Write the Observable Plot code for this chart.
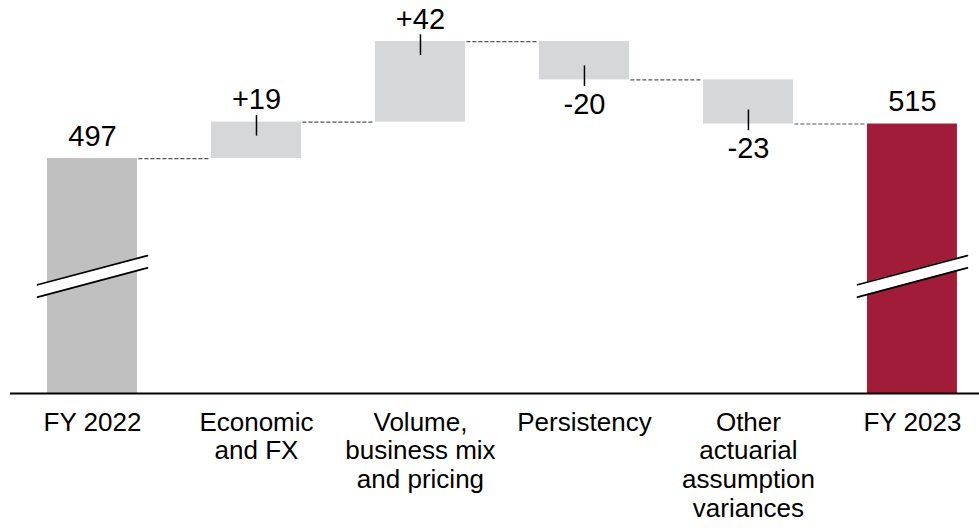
<!DOCTYPE html>
<html>
<head>
<meta charset="utf-8">
<script src="https://cdn.jsdelivr.net/npm/d3@7"></script>
<script src="https://cdn.jsdelivr.net/npm/@observablehq/plot@0.6"></script>
<style>
  html, body { margin: 0; padding: 0; background: #fff; }
</style>
</head>
<body>
<div id="chart"></div>
<script>
const categories = ["FY 2022", "Economic\nand FX", "Volume,\nbusiness mix\nand pricing", "Persistency", "Other\nactuarial\nassumption\nvariances", "FY 2023"];
const values = [497, 19, 42, -20, -23, 515];
const kinds = ["total", "delta", "delta", "delta", "delta", "total"];
const valueLabels = ["497", "+19", "+42", "-20", "-23", "515"];

// broken axis: visible value range
const axisFloor = 374.5;
const axisTop = 579.4;
// break marker levels (in value units, lower/upper edge at left and right)
const breakLeft = [424.7, 431.2];
const breakRight = [440.0, 446.4];

const totalColor = {"FY 2022": "#c0c0c0", "FY 2023": "#a01c38"};
const deltaColor = "#d6d7d9";

// build rows
let running = 0;
const rows = categories.map((c, i) => {
  let start, end;
  if (kinds[i] === "total") { start = axisFloor; end = values[i]; running = values[i]; }
  else { start = running; end = running + values[i]; running = end; }
  return {i, cat: c, kind: kinds[i], value: values[i], label: valueLabels[i], start, end};
});

const hw = 0.2744;
const conns = rows.slice(0, -1).map(d => ({i: d.i, level: d.end}));
const breaks = [];
rows.filter(d => d.kind === "total").forEach(d => {
  breaks.push({id: d.i, x: d.i - 0.335, lo: breakLeft[0], hi: breakLeft[1]});
  breaks.push({id: d.i, x: d.i + 0.335, lo: breakRight[0], hi: breakRight[1]});
});
const above = rows.filter(d => d.value >= 0);
const below = rows.filter(d => d.value < 0);
const posDeltas = rows.filter(d => d.kind === "delta" && d.value >= 0);
const negDeltas = rows.filter(d => d.kind === "delta" && d.value < 0);

const chart = Plot.plot({
  width: 979,
  height: 530,
  marginTop: 0,
  marginBottom: 137,
  marginLeft: 10,
  marginRight: 0,
  style: {fontFamily: "'Liberation Sans', Arial, sans-serif", color: "#000", background: "#fff"},
  x: {domain: [-0.5, 5.409], axis: null},
  y: {domain: [axisFloor, axisTop], axis: null},
  marks: [
    Plot.rectY(rows, {
      x1: d => d.i - hw, x2: d => d.i + hw, y1: "start", y2: "end",
      fill: d => d.kind === "total" ? totalColor[d.cat] : deltaColor
    }),
    Plot.area(breaks, {x1: "x", y1: "lo", y2: "hi", z: "id", fill: "#fff"}),
    Plot.line(breaks, {x: "x", y: "lo", z: "id", stroke: "#000", strokeWidth: 1.8}),
    Plot.line(breaks, {x: "x", y: "hi", z: "id", stroke: "#000", strokeWidth: 1.8}),
    Plot.link(conns, {
      x1: d => d.i + 0.28, x2: d => d.i + 0.707, y1: "level", y2: "level",
      stroke: "#555", strokeWidth: 1.2, strokeDasharray: "4,2"
    }),
    Plot.ruleX(posDeltas, {x: "i", y1: "end", y2: "end", insetTop: -6.7, insetBottom: -14, stroke: "#000", strokeWidth: 1.5}),
    Plot.ruleX(negDeltas, {x: "i", y1: "end", y2: "end", insetTop: -14, insetBottom: -6.7, stroke: "#000", strokeWidth: 1.5}),
    Plot.text(above, {x: "i", y: "end", text: "label", dy: -13, lineAnchor: "bottom", fontSize: 29, fill: "#000"}),
    Plot.text(below, {x: "i", y: "end", text: "label", dy: 13.4, lineAnchor: "top", fontSize: 29, fill: "#000"}),
    Plot.ruleY([axisFloor], {stroke: "#000", strokeWidth: 2}),
    Plot.axisX({
      ticks: rows.map(d => d.i),
      tickFormat: i => categories[i],
      tickSize: 0,
      tickPadding: 17,
      fontSize: 26,
      lineHeight: 1.1,
      fill: "#000"
    })
  ]
});
document.getElementById("chart").appendChild(chart);
</script>
</body>
</html>
